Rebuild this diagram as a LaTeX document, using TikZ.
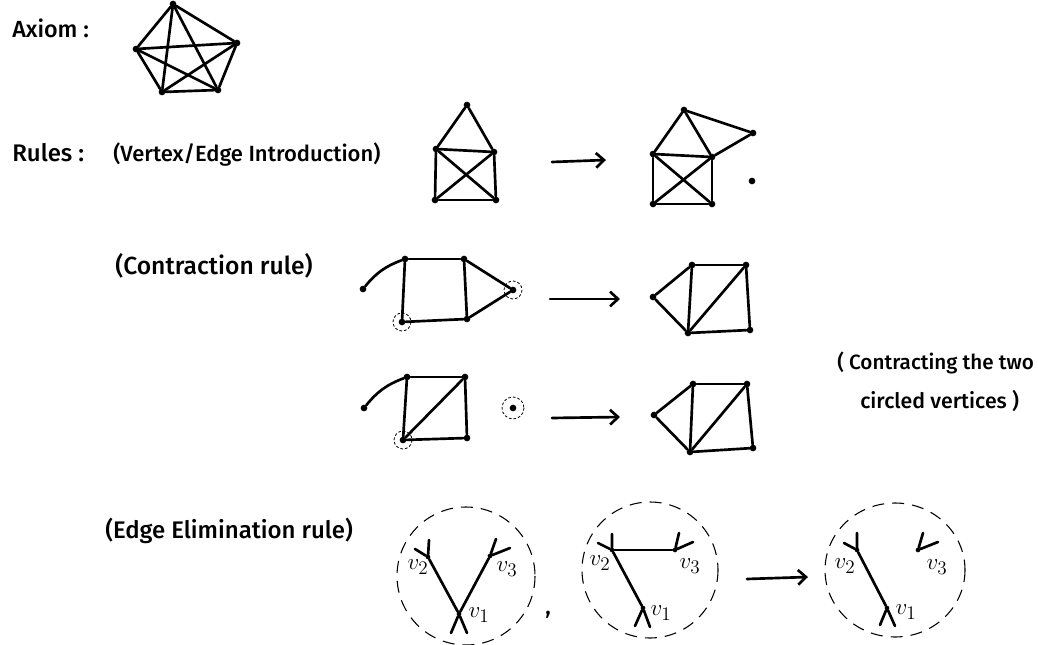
\documentclass[tikz,border=0pt]{standalone}
\usepackage{fontspec}
\setmainfont{Fira Sans}[UprightFont=* Medium]
\usetikzlibrary{arrows.meta}
\newcommand{\fsz}[1]{\fontsize{#1}{#1}\selectfont}
\begin{document}
\begin{tikzpicture}[x=0.75pt,y=-0.75pt,
  edge/.style={line width=2pt, line cap=round, line join=round},
  dot/.style={circle,fill,inner sep=0pt,minimum size=5pt},
  lbl/.style={anchor=base west,inner sep=0pt,font=\fsz{17}},
  vlab/.style={inner sep=0pt,font=\fsz{19}},
  blob/.style={line width=0.8pt,dash pattern=on 9pt off 6pt},
  ring/.style={line width=0.6pt,dash pattern=on 2pt off 1.5pt},
  arr/.style={line width=2pt,line cap=round,-{Straight Barb[length=6pt,width=11pt,line width=2pt]}}]
\useasboundingbox (0,0) rectangle (1038,645);

% ---------- texts ----------
\node[lbl,font=\fsz{17.5}] (tAxiom) at (12,38) {Axiom :};
\node[lbl,font=\fsz{18}] (tRules) at (12,162) {Rules :};
\node[lbl,font=\fsz{16.5}] (tVE) at (113,162) {(Vertex/Edge Introduction)};
\node[lbl,font=\fsz{18.5}] (tCon) at (115,275) {(Contraction rule)};
\node[lbl,font=\fsz{18}] (tEE) at (105,538) {(Edge Elimination rule)};
\node[lbl,font=\fsz{15.5}] (tCt1) at (837,369) {( Contracting the two};
\node[lbl,font=\fsz{16}] (tCt2) at (860,408) {circled vertices )};

% ---------- axiom K5 ----------
\node[dot] (p1) at (173,4) {};
\node[dot] (p2) at (237,43) {};
\node[dot] (p3) at (218,90) {};
\node[dot] (p4) at (162,92) {};
\node[dot] (p5) at (136,49) {};
\foreach \a/\b in {p1/p2,p1/p3,p1/p4,p1/p5,p2/p3,p2/p4,p2/p5,p3/p4,p3/p5,p4/p5}
  \draw[edge] (\a) -- (\b);

% ---------- vertex/edge introduction ----------
\node[dot] (h1t) at (467,105) {};
\node[dot] (h1l) at (436,149) {};
\node[dot] (h1r) at (494,152) {};
\node[dot] (h1bl) at (435,200) {};
\node[dot] (h1br) at (496,200) {};
\foreach \a/\b in {h1t/h1l,h1t/h1r,h1l/h1r,h1l/h1bl,h1r/h1br,h1bl/h1br,h1l/h1br,h1r/h1bl}
  \draw[edge] (\a) -- (\b);

\coordinate (a1s) at (552,162);
\coordinate (a1e) at (606,160);
\draw[arr] (a1s) -- (a1e);

\node[dot] (h2t) at (684,110) {};
\node[dot] (h2l) at (653,154) {};
\node[dot] (h2r) at (712,157) {};
\node[dot] (h2bl) at (653,204) {};
\node[dot] (h2br) at (712,204) {};
\node[dot] (h2x) at (753,133) {};
\node[dot] (h2i) at (752,181) {};
\foreach \a/\b in {h2t/h2l,h2t/h2r,h2l/h2r,h2l/h2bl,h2r/h2br,h2bl/h2br,h2l/h2br,h2r/h2bl,h2t/h2x,h2x/h2r}
  \draw[edge] (\a) -- (\b);

% ---------- contraction rule, row 1 ----------
\node[dot] (c1p) at (363,289) {};
\node[dot] (c1tl) at (405,259) {};
\node[dot] (c1tr) at (464,259) {};
\node[dot] (c1r) at (513,290) {};
\node[dot] (c1br) at (467,319) {};
\node[dot] (c1bl) at (402,322) {};
\draw[edge] (c1p) to[bend left=15] (c1tl);
\foreach \a/\b in {c1tl/c1tr,c1tl/c1bl,c1tr/c1br,c1bl/c1br,c1tr/c1r,c1br/c1r}
  \draw[edge] (\a) -- (\b);
\draw[ring] (c1r) circle[radius=9];
\draw[ring] (c1bl) circle[radius=9];

\coordinate (a2s) at (550,299);
\coordinate (a2e) at (620,299);
\draw[arr] (a2s) -- (a2e);

\node[dot] (d1l) at (653,297) {};
\node[dot] (d1tl) at (692,265) {};
\node[dot] (d1tr) at (746,265) {};
\node[dot] (d1br) at (750,330) {};
\node[dot] (d1bl) at (688,333) {};
\foreach \a/\b in {d1l/d1tl,d1l/d1bl,d1tl/d1tr,d1tl/d1bl,d1tr/d1br,d1bl/d1br,d1tr/d1bl}
  \draw[edge] (\a) -- (\b);

% ---------- contraction rule, row 2 ----------
\node[dot] (c2p) at (364,408) {};
\node[dot] (c2tl) at (407,377) {};
\node[dot] (c2tr) at (465,377) {};
\node[dot] (c2br) at (467,438) {};
\node[dot] (c2bl) at (403,440) {};
\node[dot] (c2i) at (513,408) {};
\draw[edge] (c2p) to[bend left=15] (c2tl);
\foreach \a/\b in {c2tl/c2tr,c2tl/c2bl,c2tr/c2br,c2bl/c2br,c2tr/c2bl}
  \draw[edge] (\a) -- (\b);
\draw[ring] (c2bl) circle[radius=9];
\draw[ring] (c2i) circle[radius=11];

\coordinate (a3s) at (552,418);
\coordinate (a3e) at (620,417);
\draw[arr] (a3s) -- (a3e);

\node[dot] (d2l) at (654,415) {};
\node[dot] (d2tl) at (693,384) {};
\node[dot] (d2tr) at (747,384) {};
\node[dot] (d2br) at (753,448) {};
\node[dot] (d2bl) at (690,452) {};
\foreach \a/\b in {d2l/d2tl,d2l/d2bl,d2tl/d2tr,d2tl/d2bl,d2tr/d2br,d2bl/d2br,d2tr/d2bl}
  \draw[edge] (\a) -- (\b);

% ---------- edge elimination ----------
% cluster 1
\draw[blob] (466,576) circle[radius=69];
\node[dot,minimum size=3.5pt] (e1v2) at (428,557) {};
\node[dot,minimum size=3.5pt] (e1v3) at (490,556) {};
\node[dot,minimum size=3.5pt] (e1v1) at (459,614) {};
\coordinate (e1x1) at (467,633);
\coordinate (e1x2) at (451,633);
\coordinate (e1s1) at (429,540);
\coordinate (e1s2) at (415,549);
\coordinate (e1s3) at (496,539);
\coordinate (e1s4) at (510,548);
\draw[edge] (e1v2) -- (e1v1) -- (e1x1);
\draw[edge] (e1v3) -- (e1v1) -- (e1x2);
\draw[edge] (e1s1) -- (e1v2) -- (e1s2);
\draw[edge] (e1s3) -- (e1v3) -- (e1s4);
\node[vlab] (l1v2) at (418,567) {$v_2$};
\node[vlab] (l1v3) at (507,569) {$v_3$};
\node[vlab] (l1v1) at (479,615) {$v_1$};
\node[lbl] (comma) at (545,614) {,};

% cluster 2
\draw[blob] (650,570) circle[radius=68];
\node[dot,minimum size=3.5pt] (e2v2) at (612,550) {};
\node[dot,minimum size=3.5pt] (e2v3) at (675,550) {};
\node[dot,minimum size=3.5pt] (e2v1) at (643,608) {};
\coordinate (e2x1) at (650,627);
\coordinate (e2x2) at (635,626);
\coordinate (e2s1) at (612,534);
\coordinate (e2s2) at (598,543);
\coordinate (e2s3) at (679,533);
\coordinate (e2s4) at (693,542);
\draw[edge] (e2v2) -- (e2v1) -- (e2x1);
\draw[edge] (e2v1) -- (e2x2);
\draw[edge] (e2v2) -- (e2v3);
\draw[edge] (e2s1) -- (e2v2) -- (e2s2);
\draw[edge] (e2s3) -- (e2v3) -- (e2s4);
\node[vlab] (l2v2) at (600,563) {$v_2$};
\node[vlab] (l2v3) at (690,566) {$v_3$};
\node[vlab] (l2v1) at (661,613) {$v_1$};

\coordinate (a4s) at (747,579);
\coordinate (a4e) at (808,577);
\draw[arr] (a4s) -- (a4e);

% cluster 3
\draw[blob] (895,570) ellipse[x radius=70,y radius=67];
\node[dot,minimum size=3.5pt] (e3v2) at (857,550) {};
\node[dot,minimum size=3.5pt] (e3v3) at (918,550) {};
\node[dot,minimum size=3.5pt] (e3v1) at (887,608) {};
\coordinate (e3x1) at (895,626);
\coordinate (e3x2) at (880,625);
\coordinate (e3s1) at (857,533);
\coordinate (e3s2) at (844,543);
\coordinate (e3s3) at (923,533);
\coordinate (e3s4) at (938,542);
\draw[edge] (e3v2) -- (e3v1) -- (e3x1);
\draw[edge] (e3v1) -- (e3x2);
\draw[edge] (e3s1) -- (e3v2) -- (e3s2);
\draw[edge] (e3s3) -- (e3v3) -- (e3s4);
\node[vlab] (l3v2) at (845,566) {$v_2$};
\node[vlab] (l3v3) at (937,567) {$v_3$};
\node[vlab] (l3v1) at (906,612) {$v_1$};
\end{tikzpicture}
\end{document}
